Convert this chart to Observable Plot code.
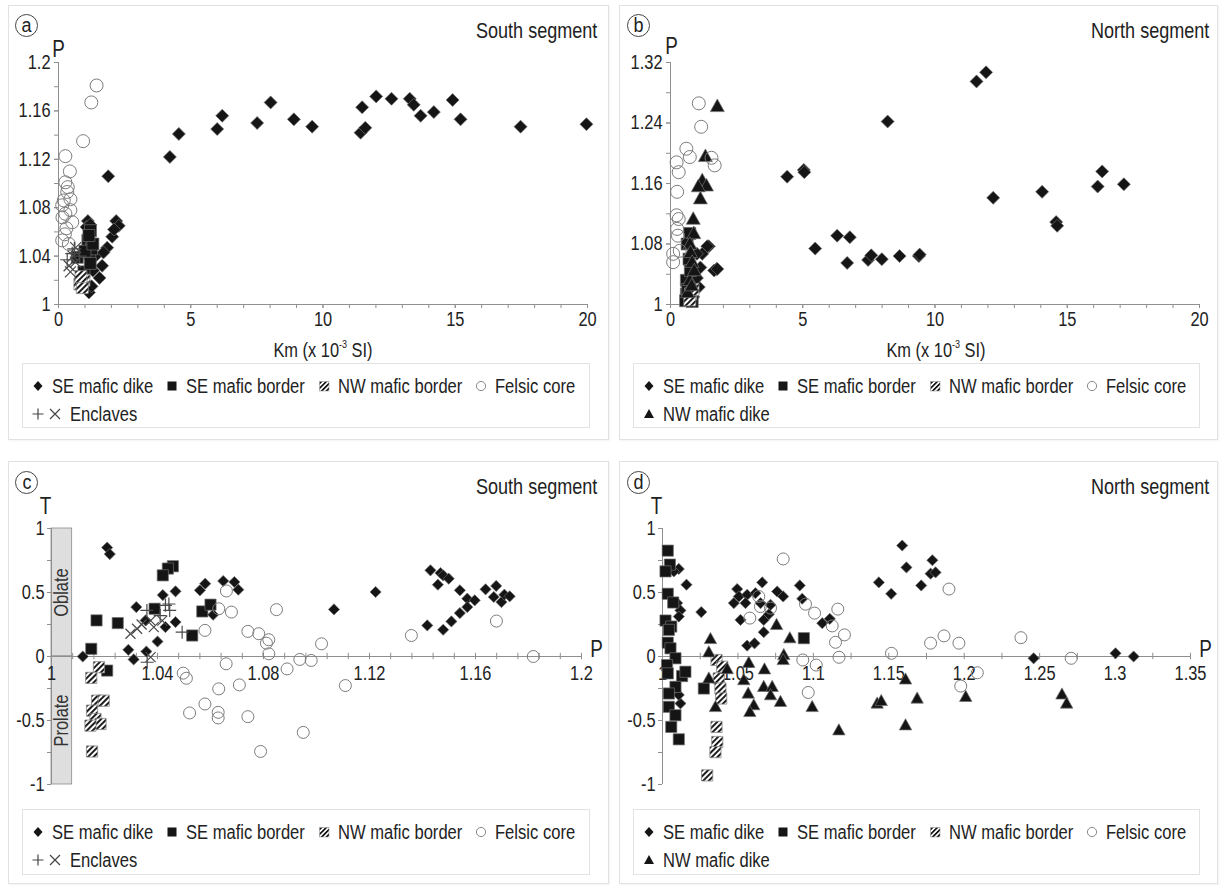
<!DOCTYPE html>
<html>
<head>
<meta charset="utf-8">
<script src="https://cdn.jsdelivr.net/npm/d3@7"></script>
<script src="https://cdn.jsdelivr.net/npm/@observablehq/plot@0.6"></script>
<style>
  html,body{margin:0;padding:0;background:#fff;}
  body{font-family:"Liberation Sans",Arial,sans-serif;color:#222;}
  #root{position:relative;width:1220px;height:888px;overflow:hidden;}
  .panel{position:absolute;border:1px solid #e2e2e2;box-shadow:1px 1px 2px rgba(0,0,0,0.05);background:#fff;}
  .plot{position:absolute;}
  .letter{position:absolute;width:23px;height:23px;border:1.3px solid #444;border-radius:50%;font-size:20px;line-height:20px;text-align:center;color:#222;box-sizing:border-box;}
  .letter span{display:inline-block;transform:scaleX(0.9);}
  .seg{position:absolute;font-size:22px;line-height:22px;white-space:nowrap;color:#222;}
  .xtitle{position:absolute;font-size:20px;line-height:20px;white-space:nowrap;transform:translateX(-50%);color:#222;}
  .xtitle sup{font-size:11px;vertical-align:9px;line-height:0;}
  .legend{position:absolute;border:1px solid #e3e3e3;box-sizing:border-box;padding:8px 0 0 9px;font-size:19.5px;line-height:28px;color:#222;}
  .row{display:flex;align-items:center;height:28px;white-space:nowrap;}
  .item{display:flex;align-items:center;margin-right:13px;}
  .item svg{margin-right:8px;display:block;}
</style>
</head>
<body>
<div id="root"></div>
<script>
// ---------------- DATA ----------------
// Panel a: South segment, Km (x10^-3 SI) vs P
const aSeMaficDike = [[4.21,1.122],[4.55,1.141],[6.0,1.145],[6.19,1.156],[7.51,1.150],[8.02,1.167],[8.90,1.153],[9.59,1.147],[11.42,1.142],[11.60,1.146],[11.48,1.163],[12.01,1.172],[12.59,1.170],[13.28,1.170],[13.43,1.165],[13.69,1.156],[14.19,1.159],[14.90,1.169],[15.20,1.153],[17.47,1.147],[19.96,1.149],[1.88,1.106],[1.11,1.069],[2.18,1.069],[2.28,1.065],[2.03,1.056],[1.84,1.047],[1.65,1.032],[1.55,1.022],[1.15,1.010],[1.06,1.064],[1.4,1.040],[1.2,1.066],[2.1,1.062],[1.7,1.043],[1.3,1.028],[1.25,1.015]];
const aSeMaficBorder = [[1.21,1.061],[1.11,1.053],[1.18,1.042],[1.25,1.046],[0.96,1.027],[1.2,1.034],[0.71,1.039],[1.0,1.044],[1.3,1.05],[1.15,1.057]];
const aNwMaficBorder = [[0.81,1.017],[0.96,1.020],[0.90,1.014],[0.85,1.023]];
const aFelsicCore = [[1.44,1.181],[1.24,1.167],[0.93,1.135],[0.26,1.1226],[0.43,1.110],[0.26,1.101],[0.33,1.093],[0.20,1.086],[0.45,1.087],[0.14,1.082],[0.26,1.075],[0.45,1.078],[0.30,1.063],[0.52,1.068],[0.24,1.058],[0.14,1.053],[0.39,1.050],[0.15,1.072],[0.35,1.097]];
const aEnclavesPlus = [[0.52,1.042],[0.33,1.037],[0.8,1.040],[0.6,1.046]];
const aEnclavesTimes = [[0.64,1.035],[0.45,1.027],[0.65,1.047],[0.4,1.032],[0.55,1.040]];

// Panel b: North segment, Km vs P
const bSeMaficDike = [[11.57,1.295],[11.93,1.307],[8.21,1.242],[4.41,1.169],[5.04,1.178],[5.06,1.175],[12.2,1.141],[14.05,1.149],[16.32,1.176],[16.15,1.156],[17.14,1.159],[14.58,1.109],[14.62,1.104],[5.47,1.074],[6.30,1.091],[6.78,1.089],[6.68,1.055],[7.47,1.059],[7.59,1.065],[7.99,1.060],[8.66,1.064],[9.39,1.064],[9.42,1.066],[1.45,1.077],[1.74,1.047],[1.65,1.045],[1.39,1.077],[1.2,1.067],[1.77,1.047],[1.07,1.023],[0.86,1.010],[1.0,1.067],[1.13,1.049],[1.0,1.035],[0.8,1.004]];
const bSeMaficBorder = [[0.73,1.094],[0.63,1.080],[0.60,1.032],[0.60,1.014],[0.57,1.005],[0.82,1.004],[0.7,1.06],[0.75,1.045],[0.65,1.02]];
const bNwMaficBorder = [[0.76,1.014],[0.73,1.006],[0.85,1.02]];
const bNwMaficDike = [[1.77,1.262],[1.32,1.196],[1.20,1.164],[1.36,1.157],[1.05,1.156],[1.13,1.140],[0.86,1.113],[0.88,1.094],[0.73,1.080],[0.76,1.069],[0.82,1.056],[0.73,1.032],[0.65,1.016],[0.9,1.045],[0.8,1.025]];
const bFelsicCore = [[1.07,1.266],[1.16,1.235],[0.60,1.206],[0.73,1.195],[0.23,1.188],[0.31,1.175],[1.55,1.194],[1.67,1.184],[0.25,1.149],[0.23,1.118],[0.31,1.113],[0.28,1.091],[0.25,1.100],[0.35,1.071],[0.10,1.067],[0.10,1.056]];

// Panel c: South segment, P vs T
const cSeMaficDike = [[1.021,0.851],[1.022,0.80],[1.0118,0.0],[1.032,0.386],[1.0355,0.282],[1.029,0.052],[1.031,-0.023],[1.0358,0.039],[1.040,0.117],[1.042,0.48],[1.043,0.23],[1.0468,0.509],[1.0468,0.269],[1.056,0.517],[1.058,0.569],[1.061,0.326],[1.0648,0.59],[1.069,0.582],[1.0705,0.522],[1.1066,0.368],[1.1223,0.504],[1.143,0.673],[1.1468,0.652],[1.1478,0.634],[1.1499,0.608],[1.1458,0.561],[1.1541,0.517],[1.1569,0.452],[1.1597,0.439],[1.1569,0.386],[1.1541,0.339],[1.1509,0.274],[1.1478,0.209],[1.1418,0.243],[1.1638,0.525],[1.1678,0.551],[1.1669,0.465],[1.1698,0.425],[1.1709,0.483],[1.1729,0.47]];
const cSeMaficBorder = [[1.0458,0.705],[1.0439,0.687],[1.042,0.634],[1.0389,0.373],[1.0569,0.352],[1.060,0.405],[1.0531,0.164],[1.017,0.282],[1.025,0.261],[1.015,0.06],[1.021,-0.11]];
const cNwMaficBorder = [[1.0179,-0.084],[1.015,-0.167],[1.0172,-0.345],[1.0197,-0.345],[1.0153,-0.423],[1.0166,-0.488],[1.0185,-0.527],[1.0147,-0.54],[1.0153,-0.742]];
const cFelsicCore = [[1.066,0.512],[1.0631,0.373],[1.0679,0.347],[1.0849,0.366],[1.0579,0.204],[1.0741,0.196],[1.0782,0.178],[1.082,0.131],[1.0811,0.104],[1.082,0.021],[1.1019,0.099],[1.0937,-0.023],[1.098,-0.031],[1.0889,-0.097],[1.0659,-0.057],[1.0497,-0.13],[1.0509,-0.17],[1.0631,-0.253],[1.0709,-0.222],[1.0579,-0.371],[1.0521,-0.441],[1.0629,-0.436],[1.0629,-0.48],[1.0741,-0.47],[1.095,-0.593],[1.0789,-0.742],[1.1679,0.277],[1.1358,0.164],[1.1109,-0.227],[1.1818,0.0]];
const cEnclavesPlus = [[1.036,0.36],[1.041,0.32],[1.043,0.40],[1.0446,0.36],[1.0493,0.19],[1.0361,-0.045],[1.0443,0.41]];
const cEnclavesTimes = [[1.0298,0.178],[1.0323,0.217],[1.0374,0.28],[1.0386,0.23],[1.0418,0.28],[1.0374,-0.005],[1.034,0.25]];

// Panel d: North segment, P vs T
const dSeMaficDike = [[1.0108,0.684],[1.0075,0.665],[1.0159,0.561],[1.0097,0.417],[1.0119,0.36],[1.0108,0.312],[1.0257,0.347],[1.0119,-0.367],[1.0108,-0.30],[1.0495,0.527],[1.0473,0.417],[1.0506,0.469],[1.0561,0.482],[1.0616,0.495],[1.055,0.417],[1.0661,0.579],[1.065,0.417],[1.0671,0.286],[1.0716,0.404],[1.0705,0.33],[1.0517,0.286],[1.0671,0.19],[1.0561,0.085],[1.061,0.103],[1.076,0.508],[1.08,0.469],[1.091,0.555],[1.0926,0.451],[1.1059,0.26],[1.1109,0.294],[1.1434,0.579],[1.1516,0.49],[1.1589,0.867],[1.1617,0.696],[1.1789,0.752],[1.1777,0.647],[1.181,0.657],[1.1715,0.555],[1.246,-0.014],[1.3003,0.025],[1.3123,0.0]];
const dSeMaficBorder = [[1.0035,0.827],[1.0049,0.718],[1.002,0.665],[1.0035,0.49],[1.0071,0.422],[1.002,0.281],[1.0058,0.234],[1.0042,0.208],[1.0035,0.108],[1.0053,0.064],[1.0086,-0.014],[1.003,-0.067],[1.0035,-0.132],[1.013,-0.153],[1.0152,-0.119],[1.0086,-0.237],[1.0042,-0.289],[1.0042,-0.393],[1.0086,-0.459],[1.0058,-0.55],[1.0108,-0.647],[1.0274,-0.25],[1.0937,0.143]];
const dNwMaficBorder = [[1.0358,-0.027],[1.0396,-0.08],[1.0373,-0.171],[1.0384,-0.25],[1.0389,-0.328],[1.0358,-0.55],[1.0363,-0.668],[1.0351,-0.747],[1.0296,-0.929]];
const dFelsicCore = [[1.08,0.762],[1.0638,0.469],[1.0649,0.39],[1.0716,0.378],[1.0579,0.30],[1.0948,0.409],[1.1008,0.339],[1.1162,0.37],[1.1125,0.239],[1.1206,0.169],[1.1147,0.111],[1.117,-0.006],[1.093,-0.027],[1.1019,-0.067],[1.0966,-0.281],[1.1518,0.025],[1.1899,0.527],[1.1777,0.104],[1.1866,0.161],[1.1965,0.104],[1.2376,0.147],[1.2087,-0.127],[1.1977,-0.231],[1.2709,-0.014]];
const dNwMaficDike = [[1.0318,0.137],[1.0307,0.033],[1.0307,-0.171],[1.0351,-0.394],[1.0572,-0.049],[1.0539,-0.184],[1.0568,-0.289],[1.0605,-0.38],[1.0579,-0.433],[1.0676,-0.1],[1.0671,-0.237],[1.0727,-0.237],[1.0716,-0.302],[1.0782,-0.354],[1.0756,0.247],[1.0804,0.012],[1.08,-0.027],[1.0844,0.143],[1.0992,-0.394],[1.1169,-0.576],[1.1423,-0.367],[1.145,-0.347],[1.1611,-0.179],[1.1611,-0.537],[1.1688,-0.328],[1.201,-0.315],[1.2648,-0.296],[1.2679,-0.367],[1.0429,-0.098]];

// Tick labels
const kmTicks = [0, 5, 10, 15, 20];
const pTicksA = [1, 1.04, 1.08, 1.12, 1.16, 1.2];
const pTicksB = [1, 1.08, 1.16, 1.24, 1.32];
const pTicksC = [1, 1.04, 1.08, 1.12, 1.16, 1.2];
const pTicksD = [1, 1.05, 1.1, 1.15, 1.2, 1.25, 1.3, 1.35];
const tTicks = [-1, -0.5, 0, 0.5, 1];
const shapeZones = [{label: "Oblate", t1: 0, t2: 1}, {label: "Prolate", t1: -1, t2: 0}];
const bandP = [1, 1.0078];
const panelTitles = ["South segment", "North segment", "South segment", "North segment"];
const legendSouth = [["dike", "SE mafic dike"], ["border", "SE mafic border"], ["nwBorder", "NW mafic border"], ["felsic", "Felsic core"]];
const legendSouthRow2 = [["enclaves", "Enclaves"]];
const legendNorthRow2 = [["nwDike", "NW mafic dike"]];

// ---------------- STYLE HELPERS ----------------
const FONT = `"Liberation Sans",Arial,sans-serif`;
const NARROW = 0.82;
const NARROW_LEGEND = 0.85;
const AX = "#8f8f8f";
const INK = "#151515";
const R = s => Math.sqrt(s / Math.PI);
const symDiamond = {draw(c, s){const h=R(s); c.moveTo(0,-h); c.lineTo(h,0); c.lineTo(0,h); c.lineTo(-h,0); c.closePath();}};
const symSquare = {draw(c, s){const h=R(s); c.moveTo(-h,-h); c.lineTo(h,-h); c.lineTo(h,h); c.lineTo(-h,h); c.closePath();}};
const symTriangle = {draw(c, s){const h=R(s); c.moveTo(0,-1.05*h); c.lineTo(h,0.75*h); c.lineTo(-h,0.75*h); c.closePath();}};
const symPlus = {draw(c, s){const h=R(s); c.moveTo(-h,0); c.lineTo(h,0); c.moveTo(0,-h); c.lineTo(0,h);}};
const symTimes = {draw(c, s){const h=R(s); c.moveTo(-h,-h); c.lineTo(h,h); c.moveTo(-h,h); c.lineTo(h,-h);}};

function hatchDefs(id) {
  return () => {
    const g = d3.create("svg:g");
    const p = g.append("defs").append("pattern").attr("id", id)
      .attr("width", 4).attr("height", 4).attr("patternUnits", "userSpaceOnUse")
      .attr("patternTransform", "rotate(45)");
    p.append("rect").attr("width", 4).attr("height", 4).attr("fill", "#fff");
    p.append("rect").attr("width", 1.9).attr("height", 4).attr("fill", "#111");
    return g.node();
  };
}

function pointMarks(S, z, hatchId) {
  const xy = {x: d => d[0], y: d => d[1]};
  const m = [];
  if (S.dike) m.push(Plot.dot(S.dike, {...xy, symbol: symDiamond, r: z.dia, fill: INK, stroke: "#707070", strokeWidth: 0.7}));
  if (S.border) m.push(Plot.dot(S.border, {...xy, symbol: symSquare, r: z.sq, fill: INK, stroke: "#707070", strokeWidth: 0.7}));
  if (S.nwBorder) m.push(Plot.dot(S.nwBorder, {...xy, symbol: symSquare, r: z.sq, fill: `url(#${hatchId})`, stroke: "#888", strokeWidth: 0.8}));
  if (S.nwDike) m.push(Plot.dot(S.nwDike, {...xy, symbol: symTriangle, r: z.tri, fill: INK, stroke: "#707070", strokeWidth: 0.7}));
  if (S.felsic) m.push(Plot.dot(S.felsic, {...xy, r: z.circ, fill: "none", stroke: "#7c7c7c", strokeWidth: 1}));
  if (S.encPlus) m.push(Plot.dot(S.encPlus, {...xy, symbol: symPlus, r: z.plus, fill: "none", stroke: "#4a4a4a", strokeWidth: 1.2}));
  if (S.encTimes) m.push(Plot.dot(S.encTimes, {...xy, symbol: symTimes, r: z.times, fill: "none", stroke: "#4a4a4a", strokeWidth: 1.2}));
  return m;
}

const sizesKm = {dia: 6.5, sq: 6, tri: 7, circ: 6.5, plus: 7, times: 5.5};
const sizesPT = {dia: 5.6, sq: 5.6, tri: 6.2, circ: 6, plus: 6.5, times: 5};
const plotStyle = {fontFamily: FONT, fontSize: "20px", color: "#222", background: "transparent", overflow: "visible"};

function kmPlot(S, o) {
  return Plot.plot({
    width: o.width, height: 440,
    marginLeft: 58, marginRight: o.marginRight, marginTop: 62, marginBottom: 136,
    x: {domain: [0, 20], axis: null},
    y: {domain: o.yDomain, axis: null},
    style: plotStyle,
    marks: [
      hatchDefs(o.hatchId),
      Plot.axisX(d3.range(0, 20.5, 1), {tickSize: 4, tickFormat: () => "", stroke: AX, label: null}),
      Plot.axisX(kmTicks, {tickSize: 4, tickPadding: 3, stroke: AX, fill: "#222", label: null, tickFormat: d => String(d)}),
      Plot.axisY(o.yMinor, {tickSize: 4, tickFormat: () => "", stroke: AX, label: null}),
      Plot.axisY(o.yTicks, {tickSize: 4, tickPadding: 4, stroke: AX, fill: "#222", label: null, tickFormat: d => String(d)}),
      Plot.ruleX([0], {stroke: AX}),
      Plot.ruleY([o.yDomain[0]], {stroke: AX}),
      Plot.text(["P"], {frameAnchor: "top-left", dx: o.pDx, dy: o.pDy, fontSize: 23, textAnchor: "middle", lineAnchor: "middle", fill: "#222"}),
      ...pointMarks(S, sizesKm, o.hatchId)
    ]
  });
}

function ptPlot(S, o) {
  const marks = [hatchDefs(o.hatchId)];
  if (o.band) {
    marks.push(Plot.rect(shapeZones, {x1: () => bandP[0], x2: () => bandP[1], y1: d => d.t1, y2: d => d.t2, fill: "#dedede", stroke: "#8a8a8a", strokeWidth: 0.8}));
    marks.push(Plot.text(shapeZones, {x: () => (bandP[0] + bandP[1]) / 2, y: d => (d.t1 + d.t2) / 2, text: d => d.label, rotate: -90, fontSize: 20, fill: "#333"}));
  }
  marks.push(
    Plot.axisY(d3.range(-1, 1.01, 0.25), {tickSize: 4, tickFormat: () => "", stroke: AX, label: null}),
    Plot.axisY(tTicks, {tickSize: 4, tickPadding: 3, stroke: AX, fill: "#222", label: null, tickFormat: d => String(d)}),
    Plot.ruleX([o.xDomain[0]], {stroke: AX}),
    Plot.ruleY([0], {stroke: AX}),
    Plot.ruleX(d3.range(o.xDomain[0], o.xDomain[1] + 1e-9, o.xMinorStep), {x: d => d, y1: () => -0.025, y2: () => 0.025, stroke: AX}),
    Plot.text(o.xTicks, {x: d => d, y: () => 0, dy: 17, text: d => String(d), fontSize: 20, fill: "#222"}),
    Plot.text(["P"], {x: () => o.xDomain[1], y: () => 0, dx: 15, dy: -7, fontSize: 23, fill: "#222"}),
    Plot.text(["T"], {frameAnchor: "top-left", dx: -6, dy: -22, fontSize: 23, textAnchor: "middle", lineAnchor: "middle", fill: "#222"}),
    ...pointMarks(S, sizesPT, o.hatchId)
  );
  return Plot.plot({
    width: o.width, height: 440,
    marginLeft: 51, marginRight: o.marginRight, marginTop: 88, marginBottom: 96,
    x: {domain: o.xDomain, axis: null},
    y: {domain: [-1, 1], axis: null},
    style: plotStyle,
    marks
  });
}

// condense SVG text horizontally (reference uses a narrow sans face)
function narrowSvg(svg) {
  svg.querySelectorAll("text").forEach(t => {
    if (t.querySelector("tspan")) return;
    const L = t.getComputedTextLength();
    if (L > 0) {
      t.setAttribute("textLength", (L * NARROW).toFixed(2));
      t.setAttribute("lengthAdjust", "spacingAndGlyphs");
    }
  });
}
// condense an HTML text element horizontally
function narrowHtml(e, k = NARROW) {
  const w = e.getBoundingClientRect().width;
  const inner = e.innerHTML;
  e.innerHTML = `<span style="display:inline-block;transform:scaleX(${k});transform-origin:0 50%;white-space:nowrap">${inner}</span>`;
  e.style.display = "inline-block";
  e.style.width = (w * k).toFixed(2) + "px";
  e.style.whiteSpace = "nowrap";
}

// ---------------- LAYOUT ----------------
const root = document.getElementById("root");
function el(tag, cls, style, html) {
  const e = document.createElement(tag);
  if (cls) e.className = cls;
  if (style) e.setAttribute("style", style);
  if (html != null) e.innerHTML = html;
  root.appendChild(e);
  return e;
}

// panel frames
el("div", "panel", "left:8px;top:5px;width:599px;height:433px");
el("div", "panel", "left:619px;top:5px;width:597px;height:433px");
el("div", "panel", "left:8px;top:461px;width:599px;height:421px");
el("div", "panel", "left:619px;top:461px;width:597px;height:421px");

// plots
const svgs = [];
const pa = el("div", "plot", "left:0px;top:0px;width:610px;height:440px");
svgs.push(pa.appendChild(kmPlot({dike: aSeMaficDike, border: aSeMaficBorder, nwBorder: aNwMaficBorder, felsic: aFelsicCore, encPlus: aEnclavesPlus, encTimes: aEnclavesTimes},
  {width: 610, marginRight: 23, yDomain: [1, 1.2], yTicks: pTicksA, yMinor: d3.range(1, 1.2001, 0.02), hatchId: "hatchA", pDx: 0, pDy: -13})));

const pb = el("div", "plot", "left:612px;top:0px;width:605px;height:440px");
svgs.push(pb.appendChild(kmPlot({dike: bSeMaficDike, border: bSeMaficBorder, nwBorder: bNwMaficBorder, nwDike: bNwMaficDike, felsic: bFelsicCore},
  {width: 605, marginRight: 18, yDomain: [1, 1.32], yTicks: pTicksB, yMinor: d3.range(1, 1.3201, 0.04), hatchId: "hatchB", pDx: 1, pDy: -16})));

const pc = el("div", "plot", "left:0px;top:440px;width:610px;height:440px");
svgs.push(pc.appendChild(ptPlot({dike: cSeMaficDike, border: cSeMaficBorder, nwBorder: cNwMaficBorder, felsic: cFelsicCore, encPlus: cEnclavesPlus, encTimes: cEnclavesTimes},
  {width: 610, marginRight: 29, xDomain: [1, 1.2], xTicks: pTicksC, xMinorStep: 0.008, band: true, hatchId: "hatchC"})));

const pd = el("div", "plot", "left:611px;top:440px;width:605px;height:440px");
svgs.push(pd.appendChild(ptPlot({dike: dSeMaficDike, border: dSeMaficBorder, nwBorder: dNwMaficBorder, nwDike: dNwMaficDike, felsic: dFelsicCore},
  {width: 605, marginRight: 26, xDomain: [1, 1.35], xTicks: pTicksD, xMinorStep: 0.025, band: false, hatchId: "hatchD"})));
svgs.forEach(narrowSvg);

// letters and titles
[["a", 15, 14], ["b", 627, 14], ["c", 15, 471], ["d", 627, 471]].forEach(([t, l, tp]) =>
  el("div", "letter", `left:${l}px;top:${tp}px`, `<span>${t}</span>`));
const titles = [
  el("div", "seg", "right:623px;top:20px", panelTitles[0]),
  el("div", "seg", "right:11px;top:20px", panelTitles[1]),
  el("div", "seg", "right:623px;top:476px", panelTitles[2]),
  el("div", "seg", "right:11px;top:476px", panelTitles[3]),
  el("div", "xtitle", "left:323px;top:340px", "Km (x 10<sup>-3</sup> SI)"),
  el("div", "xtitle", "left:936px;top:340px", "Km (x 10<sup>-3</sup> SI)")
];
titles.forEach(e => narrowHtml(e));

// legends
function icon(kind, pid) {
  const w = kind === "enclaves" ? 30 : 12;
  let body = "";
  if (kind === "dike") body = `<path d="M6,2L10.5,7L6,12L1.5,7Z" fill="${INK}"/>`;
  if (kind === "border") body = `<rect x="1.5" y="2.5" width="9" height="9" fill="${INK}"/>`;
  if (kind === "nwBorder") body = `<defs><pattern id="${pid}" width="3.4" height="3.4" patternUnits="userSpaceOnUse" patternTransform="rotate(45)"><rect width="3.4" height="3.4" fill="#fff"/><rect width="1.7" height="3.4" fill="#111"/></pattern></defs><rect x="1.5" y="2.5" width="9.5" height="9.5" fill="url(#${pid})" stroke="#999" stroke-width="0.6"/>`;
  if (kind === "felsic") body = `<circle cx="6" cy="7" r="4.6" fill="none" stroke="#888" stroke-width="1"/>`;
  if (kind === "nwDike") body = `<path d="M6,2L11,11L1,11Z" fill="${INK}"/>`;
  if (kind === "enclaves") body = `<path d="M0.5,7H11.5M6,1.5V12.5" stroke="#444" stroke-width="1.2"/><path d="M18,2L28,12M18,12L28,2" stroke="#444" stroke-width="1.2"/>`;
  return `<svg width="${w}" height="14">${body}</svg>`;
}
function legend(left, top, row2, tag) {
  const box = el("div", "legend", `left:${left}px;top:${top}px;width:${tag === "a" || tag === "c" ? 568 : 567}px;height:${tag === "a" || tag === "b" ? 65 : 66}px`);
  [legendSouth, row2].forEach(items => {
    const r = document.createElement("div");
    r.className = "row";
    items.forEach(([kind, label]) => {
      const it = document.createElement("div");
      it.className = "item";
      it.innerHTML = icon(kind, "lg" + tag + kind) + `<span class="lbl">${label}</span>`;
      r.appendChild(it);
    });
    box.appendChild(r);
  });
  box.querySelectorAll(".lbl").forEach(e => narrowHtml(e, NARROW_LEGEND));
}
legend(22, 363, legendSouthRow2, "a");
legend(633, 363, legendNorthRow2, "b");
legend(22, 809, legendSouthRow2, "c");
legend(633, 809, legendNorthRow2, "d");
</script>
</body>
</html>
